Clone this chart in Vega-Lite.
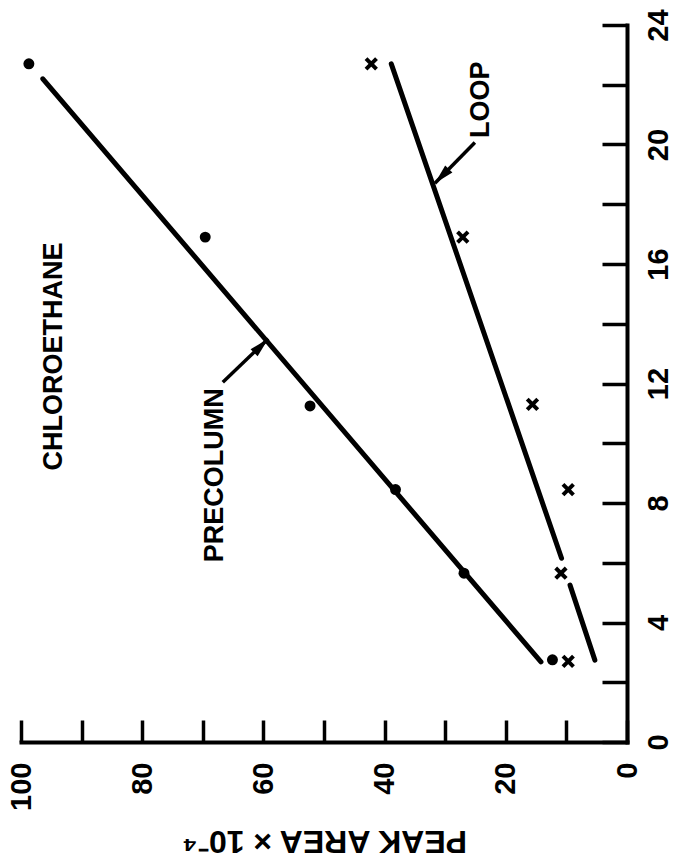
{
  "$schema": "https://vega.github.io/schema/vega-lite/v6.json",
  "width": 606,
  "height": 717,
  "autosize": "none",
  "padding": {"left": 21, "top": 25, "right": 46, "bottom": 124},
  "background": "white",
  "config": {"view": {"stroke": null}, "font": "Liberation Sans"},
  "datasets": {
    "points": [
      {"series": "PRECOLUMN", "area": 12.3, "conc": 2.75},
      {"series": "PRECOLUMN", "area": 26.9, "conc": 5.65},
      {"series": "PRECOLUMN", "area": 38.2, "conc": 8.45},
      {"series": "PRECOLUMN", "area": 52.3, "conc": 11.25},
      {"series": "PRECOLUMN", "area": 69.6, "conc": 16.9},
      {"series": "PRECOLUMN", "area": 98.7, "conc": 22.7},
      {"series": "LOOP", "area": 9.7, "conc": 2.7},
      {"series": "LOOP", "area": 10.9, "conc": 5.65},
      {"series": "LOOP", "area": 9.7, "conc": 8.45},
      {"series": "LOOP", "area": 15.6, "conc": 11.3},
      {"series": "LOOP", "area": 27.1, "conc": 16.9},
      {"series": "LOOP", "area": 42.2, "conc": 22.7}
    ],
    "lines": [
      {"segment": "precolumn", "area": 14.2, "conc": 2.68},
      {"segment": "precolumn", "area": 96.4, "conc": 22.2},
      {"segment": "loop-upper", "area": 38.9, "conc": 22.7},
      {"segment": "loop-upper", "area": 10.8, "conc": 6.15},
      {"segment": "loop-lower", "area": 9.4, "conc": 5.25},
      {"segment": "loop-lower", "area": 5.3, "conc": 2.74}
    ],
    "arrows": [
      {"label": "PRECOLUMN", "area": 59.2, "conc": 13.5, "area2": 66.7, "conc2": 12.04},
      {"label": "LOOP", "area": 31.7, "conc": 18.7, "area2": 25.1, "conc2": 20.07}
    ],
    "labels": [
      {"text": "CHLOROETHANE", "area": 94.6, "conc": 12.9},
      {"text": "PRECOLUMN", "area": 68.0, "conc": 8.93},
      {"text": "LOOP", "area": 24.1, "conc": 21.5}
    ]
  },
  "encoding": {
    "x": {
      "field": "area",
      "type": "quantitative",
      "title": "PEAK AREA × 10⁻⁴",
      "scale": {"domain": [0, 100], "reverse": true, "nice": false, "zero": false},
      "axis": {
        "orient": "bottom",
        "values": [0, 10, 20, 30, 40, 50, 60, 70, 80, 90, 100],
        "labelExpr": "datum.value % 20 === 0 ? datum.label : ''",
        "grid": false,
        "domainColor": "black",
        "domainWidth": 4,
        "domainCap": "square",
        "tickColor": "black",
        "tickWidth": 3.5,
        "tickSize": -22,
        "labelAngle": 270,
        "labelAlign": "right",
        "labelBaseline": "middle",
        "labelPadding": 42,
        "labelFont": "Liberation Sans",
        "labelFontSize": 29,
        "labelFontWeight": "bold",
        "labelColor": "black",
        "labelOverlap": false,
        "labelBound": false,
        "labelFlush": false,
        "titleAngle": 180,
        "titleFont": "Liberation Sans",
        "titleFontSize": 32,
        "titleFontWeight": "bold",
        "titleColor": "black",
        "titleBaseline": "middle",
        "titleAlign": "center",
        "titleY": 98
      }
    },
    "y": {
      "field": "conc",
      "type": "quantitative",
      "title": null,
      "scale": {"domain": [0, 24], "nice": false, "zero": false},
      "axis": {
        "orient": "right",
        "values": [0, 2, 4, 6, 8, 10, 12, 14, 16, 18, 20, 22, 24],
        "labelExpr": "datum.value % 4 === 0 ? datum.label : ''",
        "grid": false,
        "domainColor": "black",
        "domainWidth": 4,
        "domainCap": "square",
        "tickColor": "black",
        "tickWidth": 3.5,
        "tickSize": -25,
        "labelAngle": 270,
        "labelAlign": "center",
        "labelBaseline": "top",
        "labelPadding": 42,
        "labelFont": "Liberation Sans",
        "labelFontSize": 29,
        "labelFontWeight": "bold",
        "labelColor": "black",
        "labelOverlap": false,
        "labelBound": false,
        "labelFlush": false
      }
    }
  },
  "layer": [
    {
      "data": {"name": "lines"},
      "mark": {"type": "line", "color": "black", "strokeWidth": 5, "strokeCap": "round"},
      "encoding": {"detail": {"field": "segment", "type": "nominal"}}
    },
    {
      "data": {"name": "points"},
      "transform": [{"filter": "datum.series === 'PRECOLUMN'"}],
      "mark": {"type": "point", "shape": "circle", "filled": true, "color": "black", "size": 120, "opacity": 1}
    },
    {
      "data": {"name": "points"},
      "transform": [{"filter": "datum.series === 'LOOP'"}],
      "mark": {"type": "point", "shape": "M-1,-1L1,1M1,-1L-1,1", "filled": false, "color": "black", "strokeWidth": 4, "size": 110, "opacity": 1}
    },
    {
      "data": {"name": "arrows"},
      "mark": {"type": "rule", "color": "black", "strokeWidth": 3.5},
      "encoding": {
        "x2": {"field": "area2"},
        "y2": {"field": "conc2"}
      }
    },
    {
      "data": {"name": "arrows"},
      "transform": [{"filter": "datum.label === 'PRECOLUMN'"}],
      "mark": {"type": "point", "shape": "M0,0L0.5,2L-0.5,2Z", "filled": true, "color": "black", "size": 400, "angle": 45, "opacity": 1}
    },
    {
      "data": {"name": "arrows"},
      "transform": [{"filter": "datum.label === 'LOOP'"}],
      "mark": {"type": "point", "shape": "M0,0L0.5,2L-0.5,2Z", "filled": true, "color": "black", "size": 400, "angle": 224, "opacity": 1}
    },
    {
      "data": {"name": "labels"},
      "mark": {"type": "text", "angle": 270, "align": "center", "baseline": "middle", "font": "Liberation Sans", "fontSize": 27, "fontWeight": "bold", "color": "black"},
      "encoding": {"text": {"field": "text"}}
    }
  ]
}
